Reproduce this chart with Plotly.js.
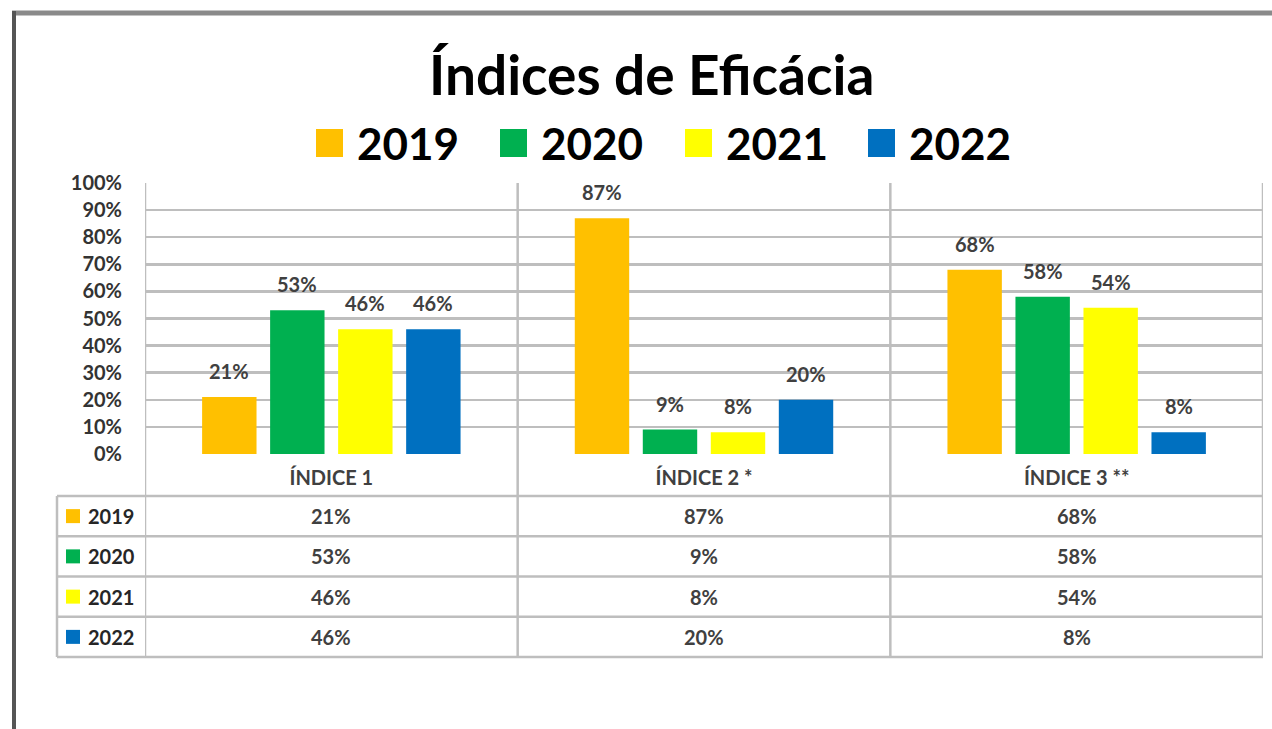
<!DOCTYPE html>
<html>
<head>
<meta charset="utf-8">
<script src="https://cdn.plot.ly/plotly-3.0.1.min.js"></script>
<style>html,body{margin:0;padding:0;background:#fff;}#chart{width:1272px;height:729px;}</style>
</head>
<body>
<div id="chart"></div>
<script>
// ---- data ----
const categories = ["ÍNDICE 1", "ÍNDICE 2 *", "ÍNDICE 3 **"];
const years = ["2019", "2020", "2021", "2022"];
const values2019 = [0.21, 0.87, 0.68];
const values2020 = [0.53, 0.09, 0.58];
const values2021 = [0.46, 0.08, 0.54];
const values2022 = [0.46, 0.20, 0.08];
const colors = ["#FFC000", "#00B050", "#FFFF00", "#0070C0"];
const yTickVals = [0, 0.1, 0.2, 0.3, 0.4, 0.5, 0.6, 0.7, 0.8, 0.9, 1.0];
const titleText = "Índices de Eficácia";

const series = [values2019, values2020, values2021, values2022];

// ---- layout geometry ----
const W = 1272, H = 729;
const L = 145, R = 1263, T = 183, B = 454;
const px = x => (x - L) / (R - L);
const py = y => (B - y) / (B - T);
const FONT = "Lato, 'Open Sans', sans-serif";
const bargap = 0.27, bargroupgap = 0.2;
const gridColor = "#BEBEBE";

const traces = series.map((vals, j) => ({
  type: "bar",
  name: years[j],
  x: categories,
  y: vals,
  marker: {color: colors[j]},
  showlegend: false,
  hoverinfo: "skip"
}));

const annotations = [];
const shapes = [];

// title
annotations.push({xref: "paper", yref: "paper", x: px(651), y: py(74), text: "<b>" + titleText + "</b>",
  showarrow: false, xanchor: "center", yanchor: "middle", font: {family: FONT, size: 55, color: "#000"}});

// top legend
const legendX = [316, 500, 685, 868];
years.forEach((yr, j) => {
  shapes.push({type: "rect", xref: "paper", yref: "paper", x0: px(legendX[j]), x1: px(legendX[j] + 27),
    y0: py(157), y1: py(129), fillcolor: colors[j], line: {width: 0}});
  annotations.push({xref: "paper", yref: "paper", x: px(legendX[j] + 39), y: py(143), text: "<b>" + yr + "</b>",
    showarrow: false, xanchor: "left", yanchor: "middle", font: {family: FONT, size: 44, color: "#000"}});
});

// data labels above bars
const slot = (1 - bargap) / series.length;
series.forEach((vals, j) => {
  vals.forEach((v, i) => {
    annotations.push({xref: "x", yref: "y", x: i + (j - (series.length - 1) / 2) * slot, y: v,
      yshift: 26, text: "<b>" + Math.round(v * 100) + "%</b>", showarrow: false,
      xanchor: "center", yanchor: "middle", font: {family: FONT, size: 20, color: "#404040"}});
  });
});

// table
const tableTop = 496, rowH = 40.25, tableLeft = 57;
const tableBottom = tableTop + rowH * series.length;
// horizontal lines
for (let r = 0; r <= series.length; r++) {
  const yy = tableTop + r * rowH;
  shapes.push({type: "line", xref: "paper", yref: "paper", x0: px(tableLeft), x1: px(R), y0: py(yy), y1: py(yy),
    line: {color: gridColor, width: 2.5}});
}
// left table border
shapes.push({type: "line", xref: "paper", yref: "paper", x0: px(tableLeft), x1: px(tableLeft), y0: py(tableTop), y1: py(tableBottom),
  line: {color: gridColor, width: 2.5}});
// category boundaries
for (let c = 0; c <= categories.length; c++) {
  shapes.push({type: "line", xref: "x", yref: "paper", x0: c - 0.5, x1: c - 0.5, y0: 1, y1: py(tableBottom),
    line: {color: gridColor, width: 2.5}});
}
// table contents
series.forEach((vals, j) => {
  const yc = tableTop + rowH * (j + 0.5);
  shapes.push({type: "rect", xref: "paper", yref: "paper", x0: px(66), x1: px(80), y0: py(yc + 7), y1: py(yc - 7),
    fillcolor: colors[j], line: {width: 0}});
  annotations.push({xref: "paper", yref: "paper", x: px(86), y: py(yc), text: "<b>" + years[j] + "</b>",
    showarrow: false, xanchor: "left", yanchor: "middle", font: {family: FONT, size: 20, color: "#262626"}});
  vals.forEach((v, i) => {
    annotations.push({xref: "x", yref: "paper", x: i, y: py(yc), text: "<b>" + Math.round(v * 100) + "%</b>",
      showarrow: false, xanchor: "center", yanchor: "middle", font: {family: FONT, size: 20, color: "#404040"}});
  });
});

// outer frame of picture
shapes.push({type: "line", xref: "paper", yref: "paper", x0: px(12), x1: px(W), y0: py(13), y1: py(13),
  line: {color: "#8A8A8A", width: 5}});
shapes.push({type: "line", xref: "paper", yref: "paper", x0: px(14), x1: px(14), y0: py(11), y1: py(H),
  line: {color: "#555555", width: 4}});

const layout = {
  width: W, height: H,
  margin: {l: L, r: W - R, t: T, b: H - B, pad: 0},
  paper_bgcolor: "#fff", plot_bgcolor: "#fff",
  barmode: "group", bargap: bargap, bargroupgap: bargroupgap,
  showlegend: false,
  xaxis: {type: "category", range: [-0.5, 2.5], showgrid: false, zeroline: false, showline: false,
    ticks: "", ticklabelstandoff: 10, tickfont: {family: FONT, size: 20, color: "#404040", weight: 700}, fixedrange: true},
  yaxis: {range: [0, 1], tickvals: yTickVals, tickformat: ".0%", showgrid: true, gridcolor: gridColor, gridwidth: 2.5,
    zeroline: false, showline: false, ticks: "", ticklabelstandoff: 22,
    tickfont: {family: FONT, size: 20, color: "#333", weight: 700}, fixedrange: true},
  annotations: annotations,
  shapes: shapes
};

Plotly.newPlot("chart", traces, layout, {staticPlot: true, displayModeBar: false});
</script>
</body>
</html>
